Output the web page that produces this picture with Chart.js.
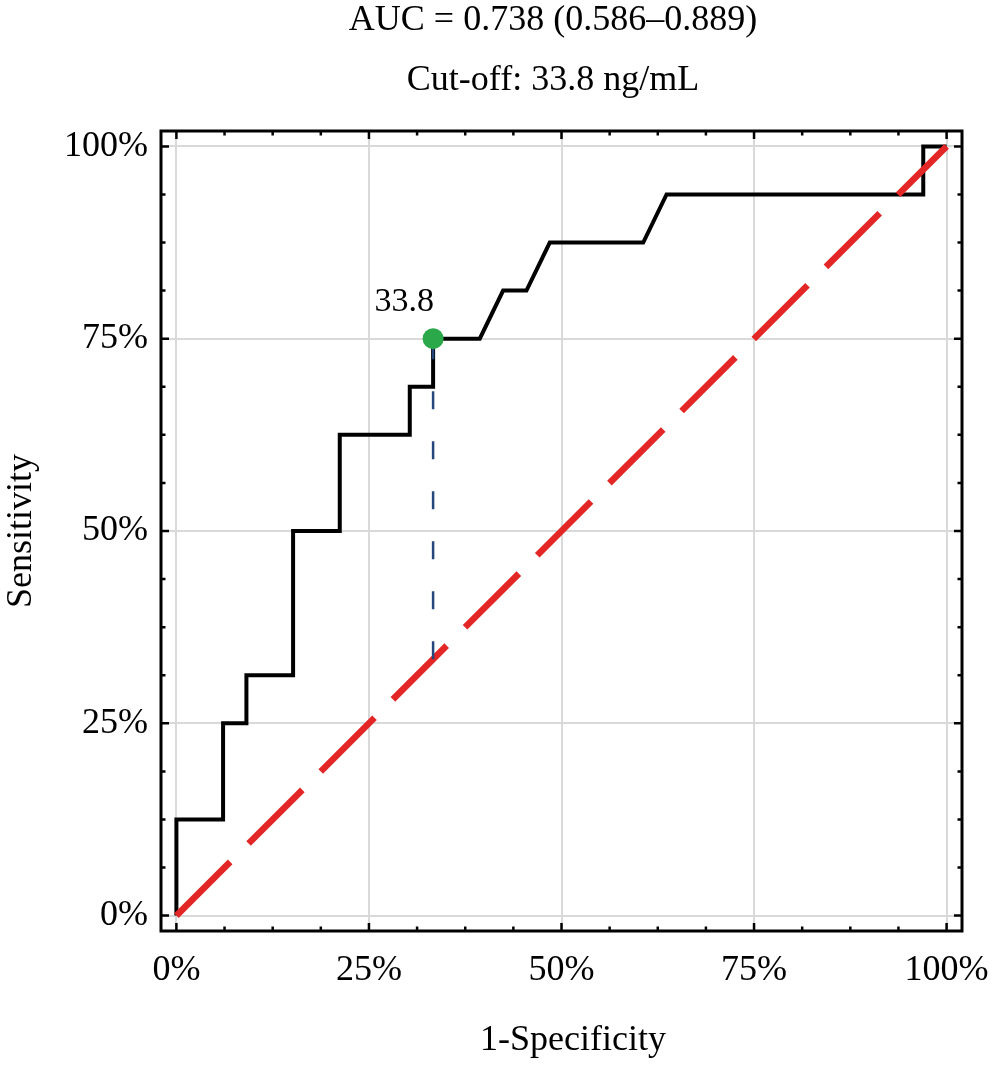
<!DOCTYPE html>
<html>
<head>
<meta charset="utf-8">
<title>ROC curve</title>
<script src="https://cdn.jsdelivr.net/npm/chart.js@4.4.0/dist/chart.umd.min.js"></script>
<style>
  html, body { margin: 0; padding: 0; background: #fff; }
  #wrap { width: 992px; height: 1082px; }
</style>
</head>
<body>
<div id="wrap"><canvas id="rocChart" width="992" height="1082"></canvas></div>
<script>
// ROC curve points (1-specificity, sensitivity), in %
const fpr = [0, 0, 6.06, 6.06, 9.09, 9.09, 15.15, 15.15, 21.21, 21.21, 30.30, 30.30, 33.33, 33.33, 39.39, 42.42, 45.45, 48.48, 60.61, 63.64, 96.97, 96.97, 100];
const tpr = [0, 12.5, 12.5, 25, 25, 31.25, 31.25, 50, 50, 62.5, 62.5, 68.75, 68.75, 75, 75, 81.25, 81.25, 87.5, 87.5, 93.75, 93.75, 100, 100];

// optimal cut-off
const cutX = 33.33;
const cutY = 75;
const cutLabel = '33.8';

// chance line
const chanceX = [0, 100];
const chanceY = [0, 100];

const axisTicks = [0, 25, 50, 75, 100];
const minorStep = 6.25;
const titleLines = ['AUC = 0.738 (0.586\u20130.889)', 'Cut-off: 33.8 ng/mL'];
const xTitle = '1-Specificity';
const yTitle = 'Sensitivity';

const FONT = "'Liberation Serif', 'Times New Roman', serif";

const toPoints = (xs, ys) => xs.map((v, i) => ({ x: v, y: ys[i] }));

// box + inward ticks on all four sides, plus the texts
const framePlugin = {
  id: 'frame',
  beforeDatasetsDraw(chart) {
    const { ctx, chartArea: a, scales: { x, y } } = chart;
    ctx.save();
    ctx.strokeStyle = '#000';
    ctx.lineWidth = 3;
    ctx.strokeRect(a.left, a.top, a.right - a.left, a.bottom - a.top);
    ctx.lineWidth = 2.5;
    ctx.beginPath();
    for (let v = 0; v <= 100; v += minorStep) {
      const len = v % 25 === 0 ? 8 : 4.5;
      const px = x.getPixelForValue(v);
      ctx.moveTo(px, a.bottom); ctx.lineTo(px, a.bottom - len);
      ctx.moveTo(px, a.top); ctx.lineTo(px, a.top + len);
      const py = y.getPixelForValue(v);
      ctx.moveTo(a.left, py); ctx.lineTo(a.left + len, py);
      ctx.moveTo(a.right, py); ctx.lineTo(a.right - len, py);
    }
    ctx.stroke();
    ctx.restore();
  },
  afterDatasetsDraw(chart) {
    const { ctx, scales: { x, y } } = chart;
    ctx.save();
    ctx.fillStyle = '#000';
    ctx.font = '34px ' + FONT;
    ctx.textAlign = 'right';
    ctx.textBaseline = 'alphabetic';
    ctx.fillText(cutLabel, x.getPixelForValue(cutX) + 1, y.getPixelForValue(cutY) - 28);

    ctx.font = '36px ' + FONT;
    ctx.textAlign = 'center';
    ctx.textBaseline = 'middle';
    ctx.fillText(titleLines[0], 553, 21);
    ctx.fillText(titleLines[1], 553, 81);
    ctx.fillText(xTitle, 573, 1041);
    ctx.restore();
  }
};

function fixTicks(axis) {
  axis.ticks = axisTicks.map(v => ({ value: v }));
}

const ctx = document.getElementById('rocChart').getContext('2d');
new Chart(ctx, {
  type: 'scatter',
  data: {
    datasets: [
      {
        label: 'cut-off',
        data: [{ x: cutX, y: cutY }],
        pointRadius: 10.5,
        pointBackgroundColor: '#2aa84a',
        pointBorderWidth: 0,
        showLine: false,
        order: 1
      },
      {
        label: 'cut-off drop',
        data: toPoints([cutX, cutX], [cutX, cutY]),
        showLine: true,
        borderColor: '#26477c',
        borderWidth: 2.5,
        borderDash: [18, 32],
        pointRadius: 0,
        order: 2
      },
      {
        label: 'chance',
        data: toPoints(chanceX, chanceY),
        showLine: true,
        borderColor: '#e32626',
        borderWidth: 6.5,
        borderDash: [76, 26],
        borderCapStyle: 'butt',
        pointRadius: 0,
        order: 3
      },
      {
        label: 'ROC',
        data: toPoints(fpr, tpr),
        showLine: true,
        borderColor: '#000',
        borderWidth: 4,
        borderJoinStyle: 'miter',
        tension: 0,
        pointRadius: 0,
        order: 4
      }
    ]
  },
  options: {
    responsive: false,
    devicePixelRatio: 1,
    animation: false,
    layout: { padding: { top: 131, right: 30, left: 0, bottom: 0 } },
    plugins: {
      legend: { display: false },
      tooltip: { enabled: false },
      title: { display: false }
    },
    scales: {
      x: {
        type: 'linear',
        min: -2,
        max: 102,
        afterBuildTicks: fixTicks,
        afterFit(scale) {
          scale.height = 151;
          scale.paddingLeft = 0;
          scale.paddingRight = 0;
        },
        grid: { color: '#d9d9d9', lineWidth: 2, drawTicks: false },
        border: { display: false },
        ticks: {
          color: '#000',
          font: { family: FONT, size: 36 },
          padding: 18,
          maxRotation: 0,
          callback: v => v + '%'
        },
        title: { display: false }
      },
      y: {
        type: 'linear',
        min: -2,
        max: 102,
        afterBuildTicks: fixTicks,
        afterFit(scale) {
          scale.width = 161;
          scale.paddingTop = 0;
          scale.paddingBottom = 0;
        },
        grid: { color: '#d9d9d9', lineWidth: 2, drawTicks: false },
        border: { display: false },
        ticks: {
          color: '#000',
          font: { family: FONT, size: 36 },
          padding: 13,
          callback: v => v + '%'
        },
        title: {
          display: true,
          text: yTitle,
          color: '#000',
          font: { family: FONT, size: 36 },
          padding: { top: 0, bottom: 0 }
        }
      }
    }
  },
  plugins: [framePlugin]
});
</script>
</body>
</html>
